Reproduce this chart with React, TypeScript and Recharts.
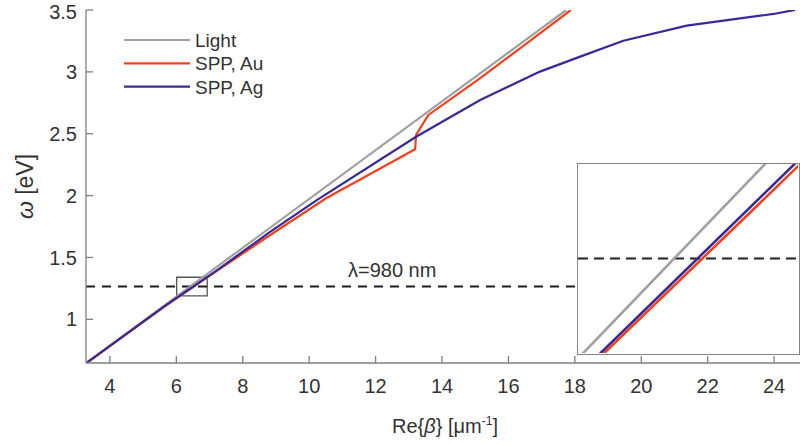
import { Line, LineChart, ReferenceArea, ReferenceDot, ReferenceLine, XAxis, YAxis } from "recharts";

// light line, omega = hbar*c*beta
const LIGHT_BETA = [3.28, 17.74];
const LIGHT_OMEGA = [0.647, 3.5];
// SPP on gold (kink near 2.4 eV)
const AU_BETA = [3.3, 5.628, 7.268, 8.93, 10.51, 13.19, 13.22, 13.59, 15.12, 16.75, 17.88];
const AU_OMEGA = [0.647, 1.1, 1.4, 1.7, 1.978, 2.374, 2.49, 2.652, 2.943, 3.27, 3.5];
// SPP on silver
const AG_BETA = [3.29, 5.618, 7.24, 8.79, 10.23, 13.22, 15.15, 16.95, 18.16, 19.46, 21.37, 23.98, 24.63];
const AG_OMEGA = [0.647, 1.1, 1.4, 1.7, 1.964, 2.476, 2.773, 3.002, 3.123, 3.252, 3.374, 3.468, 3.5];

const X_TICKS = [4, 6, 8, 10, 12, 14, 16, 18, 20, 22, 24];
const Y_TICKS = [1, 1.5, 2, 2.5, 3, 3.5];
const X_DOMAIN = [3.28, 24.9];
const Y_DOMAIN = [0.647, 3.5];
// zoomed window around the 980 nm crossing
const INSET_X = [6.01, 6.93];
const INSET_Y = [1.19, 1.34];
const LAMBDA_OMEGA = 1.265;
const LAMBDA_LABEL = "λ=980 nm";
const LABEL_BETA = 12.5;

const SERIES = [
  { name: "Light", beta: LIGHT_BETA, omega: LIGHT_OMEGA, color: "#a0a0a0" },
  { name: "SPP, Au", beta: AU_BETA, omega: AU_OMEGA, color: "#f4411c" },
  { name: "SPP, Ag", beta: AG_BETA, omega: AG_OMEGA, color: "#352a98" },
];

const FONT = '"Liberation Sans", Arial, sans-serif';
const AXIS = "#7f7f7f";
const TEXT = "#333333";
const TICK = { fill: TEXT, fontSize: 20 };
const AXIS_LINE = { stroke: AXIS, strokeWidth: 1.3 };

const toPoints = (b: number[], w: number[]) => b.map((x, i) => ({ beta: x, omega: w[i] }));
const noLabel = () => "";

function XLabel({ viewBox }: any) {
  const { x = 86, y = 363, width = 718 } = viewBox ?? {};
  return (
    <text x={x + width / 2} y={y + 70} textAnchor="middle" fill={TEXT} fontSize={20} fontFamily={FONT}>
      Re{"{"}
      <tspan fontStyle="italic">β</tspan>
      {"}"} [μm
      <tspan dy={-8} fontSize={12}>
        -1
      </tspan>
      <tspan dy={8}>]</tspan>
    </text>
  );
}

function YLabel({ viewBox }: any) {
  const { y = 10, height = 353 } = viewBox ?? {};
  const cx = 25;
  const cy = y + height / 2;
  return (
    <text
      x={cx}
      y={cy}
      transform={`rotate(-90 ${cx} ${cy})`}
      textAnchor="middle"
      dominantBaseline="central"
      fill={TEXT}
      fontSize={23}
      fontFamily={FONT}
    >
      <tspan fontStyle="italic">ω</tspan> [eV]
    </text>
  );
}

export default function App() {
  return (
    <div
      style={{
        position: "absolute",
        left: 0,
        top: 0,
        width: 800,
        height: 446,
        overflow: "hidden",
        background: "#fff",
        fontFamily: FONT,
      }}
    >
      <LineChart width={806} height={446} margin={{ top: 10, right: 2, bottom: 0, left: 0 }}>
        <XAxis
          type="number"
          dataKey="beta"
          domain={X_DOMAIN}
          ticks={X_TICKS}
          allowDataOverflow
          height={83}
          tickSize={-7}
          tickMargin={23}
          tick={TICK}
          axisLine={AXIS_LINE}
          tickLine={AXIS_LINE}
          label={<XLabel />}
        />
        <XAxis
          xAxisId="top"
          orientation="top"
          type="number"
          dataKey="beta"
          domain={X_DOMAIN}
          ticks={X_TICKS}
          allowDataOverflow
          height={0}
          tickSize={-7}
          tickFormatter={noLabel}
          axisLine={AXIS_LINE}
          tickLine={AXIS_LINE}
        />
        <YAxis
          type="number"
          dataKey="omega"
          domain={Y_DOMAIN}
          ticks={Y_TICKS}
          allowDataOverflow
          width={86}
          tickSize={-7}
          tickMargin={16}
          tick={TICK}
          axisLine={AXIS_LINE}
          tickLine={AXIS_LINE}
          label={<YLabel />}
        />
        <YAxis
          yAxisId="right"
          orientation="right"
          type="number"
          dataKey="omega"
          domain={Y_DOMAIN}
          ticks={Y_TICKS}
          allowDataOverflow
          width={0}
          tickSize={-7}
          tickFormatter={noLabel}
          axisLine={AXIS_LINE}
          tickLine={AXIS_LINE}
        />
        <ReferenceLine y={LAMBDA_OMEGA} stroke="#1e1e1e" strokeWidth={2} strokeDasharray="9 7" />
        <ReferenceArea
          x1={INSET_X[0]}
          x2={INSET_X[1]}
          y1={INSET_Y[0]}
          y2={INSET_Y[1]}
          fill="none"
          stroke="#555"
          strokeWidth={1.3}
        />
        <ReferenceDot
          x={LABEL_BETA}
          y={LAMBDA_OMEGA}
          r={0}
          fill="none"
          stroke="none"
          label={{ value: LAMBDA_LABEL, position: "top", offset: 10, fill: TEXT, fontSize: 20 }}
        />
        {/* carries the top/right frame axes */}
        <Line
          xAxisId="top"
          yAxisId="right"
          data={toPoints(LIGHT_BETA, LIGHT_OMEGA)}
          dataKey="omega"
          stroke="none"
          dot={false}
          activeDot={false}
          isAnimationActive={false}
        />
        {SERIES.map((s) => (
          <Line
            key={s.name}
            data={toPoints(s.beta, s.omega)}
            dataKey="omega"
            type="linear"
            stroke={s.color}
            strokeWidth={2.2}
            dot={false}
            activeDot={false}
            isAnimationActive={false}
          />
        ))}
      </LineChart>

      <svg width={800} height={446} style={{ position: "absolute", left: 0, top: 0, pointerEvents: "none" }}>
        {SERIES.map((s, i) => {
          const y = 40 + i * 23.3;
          return (
            <g key={s.name}>
              <line x1={124} x2={190} y1={y} y2={y} stroke={s.color} strokeWidth={2.2} />
              <text x={195} y={y + 7} fill={TEXT} fontSize={19} fontFamily={FONT}>
                {s.name}
              </text>
            </g>
          );
        })}
      </svg>

      <div
        style={{
          position: "absolute",
          left: 577,
          top: 163,
          width: 223,
          height: 192,
          boxSizing: "border-box",
          border: "1.5px solid #858585",
          background: "#fff",
        }}
      >
        <LineChart width={220} height={189} margin={{ top: 0, right: 0, bottom: 0, left: 0 }}>
          <XAxis type="number" dataKey="beta" domain={INSET_X} allowDataOverflow hide />
          <YAxis type="number" dataKey="omega" domain={INSET_Y} allowDataOverflow hide />
          <ReferenceLine y={LAMBDA_OMEGA} stroke="#1e1e1e" strokeWidth={2} strokeDasharray="10 6" />
          {SERIES.map((s) => (
            <Line
              key={s.name}
              data={toPoints(s.beta, s.omega)}
              dataKey="omega"
              type="linear"
              stroke={s.color}
              strokeWidth={2.6}
              dot={false}
              activeDot={false}
              isAnimationActive={false}
            />
          ))}
        </LineChart>
      </div>
    </div>
  );
}
